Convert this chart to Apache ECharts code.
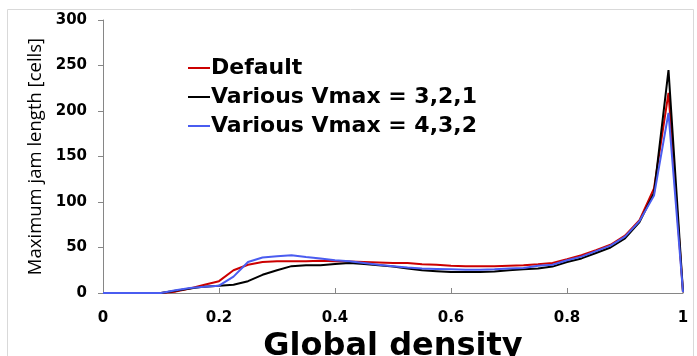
<!DOCTYPE html>
<html><head><meta charset="utf-8">
<script src="https://cdn.jsdelivr.net/npm/echarts@6/dist/echarts.min.js"></script>
<style>html,body{margin:0;padding:0;background:#fff}#c{width:697px;height:356px}</style>
</head><body><div id="c"></div>
<script>
const density = [0,0.025,0.05,0.075,0.1,0.125,0.15,0.175,0.2,0.225,0.25,0.275,0.3,0.325,0.35,0.375,0.4,0.425,0.45,0.475,0.5,0.525,0.55,0.575,0.6,0.625,0.65,0.675,0.7,0.725,0.75,0.775,0.8,0.825,0.85,0.875,0.9,0.925,0.95,0.975,1];
const defaultJam = [0,0,0,0,0,1.5,5,9,13,25,31,34,35,35,35,35.5,35,34.5,34,33.5,33,33,31.5,31,30,29.5,29.5,29.5,30,30.5,31.5,33,37,41.5,47,53,63,80,115,220,1];
const vmax321 = [0,0,0,0,0,2.5,5,7,8,9,13,20,25,29.5,30.5,30.5,32,33,32,30.5,29,27,25,24,23,23,23,23.5,25,26,27,29,34,38,44,50,60,78,110,245,1];
const vmax432 = [0,0,0,0,0,3,5.5,7,8,18,34,39,40.5,41.5,39.5,38,36,35,33,31,29.5,28,27,26.5,26,25.5,25.5,26,27,27.5,30,31,36,40,46,52,62,79,107,198,1];
const seriesNames = ['Default','Various Vmax = 3,2,1','Various Vmax = 4,3,2'];
const colors = ['#cc0000','#000000','#4a5cf0'];
const yTicks = [0,50,100,150,200,250,300];

const pair = (ys) => density.map((x,i)=>[x, ys[i]]);
const chart = echarts.init(document.getElementById('c'));
chart.setOption({
  animation:false,
  graphic:[{type:'rect',shape:{x:7.5,y:9.5,width:686,height:360},style:{fill:'none',stroke:'#d9d9d9',lineWidth:1},silent:true}],
  legend:{
    left:183, top:51, orient:'vertical', itemGap:5, itemWidth:22, itemHeight:2,
    icon:'rect',
    textStyle:{fontFamily:'DejaVu Sans',fontWeight:'bold',fontSize:22,lineHeight:24,color:'#000',padding:[0,0,0,-4]},
    data:seriesNames
  },
  grid:{left:103,right:14,top:20,bottom:63,containLabel:false,outerBoundsMode:'none'},
  xAxis:{
    type:'value',min:0,max:1,interval:0.2,
    name:'Global density',nameLocation:'middle',nameGap:26,
    nameTextStyle:{fontFamily:'DejaVu Sans',fontWeight:'bold',fontSize:32,color:'#000',verticalAlign:'top'},
    axisLine:{lineStyle:{color:'#868686',width:1}},
    axisTick:{inside:true,length:5,lineStyle:{color:'#868686'}},
    axisLabel:{fontFamily:'DejaVu Sans',fontWeight:'bold',fontSize:15,color:'#000',margin:18},
    splitLine:{show:false}
  },
  yAxis:{
    type:'value',min:0,max:300,interval:50,
    name:'Maximum jam length [cells]',nameLocation:'middle',nameGap:58,
    nameTextStyle:{fontFamily:'Open Sans',fontSize:18.5,color:'#000'},
    axisLine:{show:true,lineStyle:{color:'#868686',width:1}},
    axisTick:{show:true,length:5,lineStyle:{color:'#868686'}},
    axisLabel:{fontFamily:'DejaVu Sans',fontWeight:'bold',fontSize:15,color:'#000',margin:16,
      formatter:(v)=>yTicks.includes(v)?String(v):''},
    splitLine:{show:false}
  },
  series:[defaultJam,vmax321,vmax432].map((d,i)=>({
    name:seriesNames[i],type:'line',data:pair(d),showSymbol:false,symbol:'none',
    lineStyle:{color:colors[i],width:2},itemStyle:{color:colors[i]},smooth:false
  }))
});
</script></body></html>
